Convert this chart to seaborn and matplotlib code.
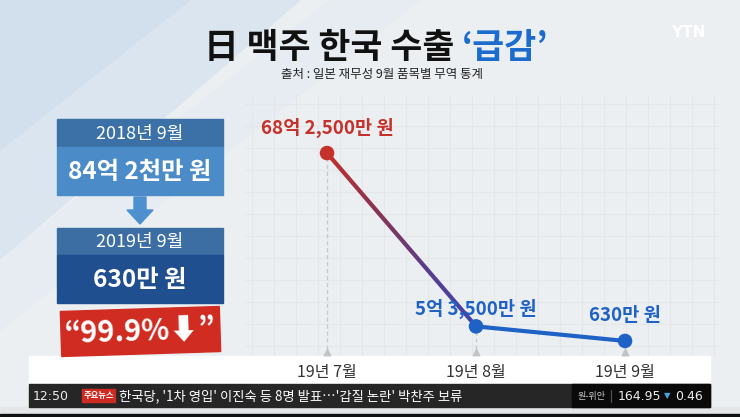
import numpy as np
import pandas as pd
import seaborn as sns
import matplotlib.pyplot as plt
from matplotlib.patches import Rectangle, Polygon
from matplotlib.colors import LinearSegmentedColormap
from matplotlib.transforms import IdentityTransform

# 데이터 (단위: 억 원)
months = ['19년 7월', '19년 8월', '19년 9월']
exports = [68.25, 5.35, 0.063]
value_labels = ['68억 2,500만 원', '5억 3,500만 원', '630만 원']
point_colors = ['#c4322b', '#1f62c6', '#1f62c6']
label_offsets = [25, 17, 25]  # 라벨 위치 (px)

compare_years = ['2018년 9월', '2019년 9월']
compare_values = ['84억 2천만 원', '630만 원']
drop_label = '“99.9%⬇”'

title_black = '日 맥주 한국 수출 '
title_blue = '‘급감’'
subtitle = '출처 : 일본 재무성 9월 품목별 무역 통계'
ticker_time = '12:50'
ticker_tag = '주요뉴스'
ticker_text = "한국당, '1차 영입' 이진숙 등 8명 발표…'갑질 논란' 박찬주 보류"
fx_name, fx_value, fx_change = '원-위안', '164.95', '0.46'

sns.set_theme(style='white')
plt.rcParams['font.family'] = ['Noto Sans CJK KR', 'DejaVu Sans']

fig = plt.figure(figsize=(7.4, 4.17), dpi=100)

# 배경 (픽셀 좌표)
bg = fig.add_axes([0, 0, 1, 1])
bg.set_xlim(0, 740)
bg.set_ylim(417, 0)
bg.axis('off')
bg.add_patch(Rectangle((0, 0), 740, 417, color='#eceff1', zorder=0))
bg.add_patch(Polygon([(0, 0), (300, 0), (0, 260)], color='#dbe5ef', zorder=0.1))
bg.add_patch(Polygon([(0, 0), (190, 0), (0, 150)], color='#d2dfec', zorder=0.2))
bg.add_patch(Polygon([(0, 260), (330, 0), (420, 0), (0, 330)], color='#e6ecf2', zorder=0.15))

# 그래프 영역 격자 (아주 옅게)
for gx in np.arange(252, 718, 22):
    bg.plot([gx, gx], [95, 356], color='#e4e6e8', lw=0.8, zorder=0.5)
for gy in np.arange(104, 356, 22):
    bg.plot([245, 718], [gy, gy], color='#e4e6e8', lw=0.8, zorder=0.5)

bg.add_patch(Rectangle((29, 356), 681, 28, color='white', zorder=1))

# 제목
bg.text(462, 47, title_black, ha='right', va='center', fontsize=25,
        fontweight='bold', color='#111111')
bg.text(462, 47, title_blue, ha='left', va='center', fontsize=25,
        fontweight='bold', color='#1b6ccc')
bg.text(382, 74, subtitle, ha='center', va='center', fontsize=9,
        color='#222222')
bg.text(688, 32, 'YTN', ha='center', va='center', fontsize=11,
        fontweight='bold', color='white', family='DejaVu Sans')

# 왼쪽 비교 박스
bg.add_patch(Rectangle((57, 119), 166, 28, color='#3b71a6', zorder=2))
bg.add_patch(Rectangle((57, 147), 166, 48, color='#4b8bc8', zorder=2))
bg.add_patch(Polygon([(134, 197), (146, 197), (146, 210), (153, 210), (140, 224),
                      (127, 210), (134, 210)], color='#4d90cf', zorder=2))
bg.add_patch(Rectangle((57, 228), 166, 27, color='#3c6da3', zorder=2))
bg.add_patch(Rectangle((57, 255), 166, 48, color='#1f4f8f', zorder=2))
bg.text(140, 134, compare_years[0], ha='center', va='center', fontsize=13,
        color='white', zorder=3)
bg.text(140, 172, compare_values[0], ha='center', va='center', fontsize=17.5,
        fontweight='bold', color='white', zorder=3)
bg.text(140, 242, compare_years[1], ha='center', va='center', fontsize=13,
        color='white', zorder=3)
bg.text(140, 280, compare_values[1], ha='center', va='center', fontsize=17.5,
        fontweight='bold', color='white', zorder=3)
bg.add_patch(Rectangle((61, 309), 159, 45, angle=-1.8, rotation_point='center',
                       color='#d02c22', zorder=2))
bg.text(140, 331, drop_label, ha='center', va='center', fontsize=21,
        fontweight='bold', color='white', rotation=1.8, zorder=3)

# 하단 뉴스 자막
bg.add_patch(Rectangle((0, 407), 740, 10, color='#e4e6e8', zorder=1))
bg.add_patch(Rectangle((0, 414), 740, 3, color='#111111', zorder=1))
bg.add_patch(Rectangle((29, 384), 681, 23, color='#262626', zorder=2))
bg.add_patch(Rectangle((572, 384), 138, 23, color='#0a0a0a', zorder=2))
bg.text(51, 396, ticker_time, ha='center', va='center', fontsize=9,
        color='#eeeeee', family='DejaVu Sans', zorder=3)
bg.add_patch(Rectangle((82, 389), 33, 13, color='#cf2a22', zorder=3))
bg.text(98.5, 395.5, ticker_tag, ha='center', va='center', fontsize=6,
        color='white', fontweight='bold', zorder=4)
bg.text(119, 396, ticker_text, ha='left', va='center', fontsize=9.6,
        color='white', zorder=3)
bg.text(592, 396, fx_name, ha='center', va='center', fontsize=6.5,
        color='#cccccc', zorder=3)
bg.plot([611, 611], [390, 402], color='#555555', lw=0.8, zorder=3)
bg.text(639, 396, fx_value, ha='center', va='center', fontsize=9,
        color='#eeeeee', family='DejaVu Sans', zorder=3)
bg.text(667, 396, '▼', ha='center', va='center', fontsize=6,
        color='#4aa3e6', family='DejaVu Sans', zorder=3)
bg.text(689, 396, fx_change, ha='center', va='center', fontsize=9,
        color='#eeeeee', family='DejaVu Sans', zorder=3)

# 선 그래프
df = pd.DataFrame({'pos': np.arange(len(months)), 'month': months, 'value': exports})
YMIN, YMAX = -5.4, 87.5
XMIN, XMAX = -0.517, 2.503

ax = fig.add_axes([250 / 740, 61 / 417, 450 / 740, 256 / 417])
ax.patch.set_alpha(0)
ax.set_xlim(XMIN, XMAX)
ax.set_ylim(YMIN, YMAX)
for s in ax.spines.values():
    s.set_visible(False)

ax.vlines(df['pos'], YMIN, df['value'], colors='#c9c9c9', linestyles=(0, (3, 2)),
          lw=1, zorder=1)
ax.scatter(df['pos'], np.full(len(df), YMIN + 1.4), marker='^', s=22,
           color='#c4c4c4', zorder=1)

sns.lineplot(data=df.iloc[1:], x='pos', y='value', color='#1f62c6', lw=3,
             ax=ax, zorder=3)

# 7월 -> 8월 구간 그라데이션
p = ax.transData.transform(df[['pos', 'value']].values[:2])
d = (p[1] - p[0]) / np.hypot(*(p[1] - p[0]))
n = np.array([-d[1], d[0]]) * 2.1
clip = Polygon([p[0] + n, p[1] + n, p[1] - n, p[0] - n], closed=True,
               transform=IdentityTransform())
grad = LinearSegmentedColormap.from_list('grad', ['#c8312a', '#8a3350', '#5a3d8c', '#3c48b0'])
im = ax.imshow(np.linspace(0, 1, 256).reshape(-1, 1), cmap=grad, aspect='auto',
               extent=[df['pos'][0] - 0.1, df['pos'][1] + 0.1, df['value'][1] - 2,
                       df['value'][0] + 2], origin='upper', zorder=3)
im.set_clip_path(clip)
ax.set_xlim(XMIN, XMAX)
ax.set_ylim(YMIN, YMAX)

sns.scatterplot(data=df, x='pos', y='value', hue='month', palette=point_colors,
                s=110, edgecolor='none', legend=False, ax=ax, zorder=4)

for i, row in df.iterrows():
    ax.annotate(value_labels[i], (row['pos'], row['value']),
                xytext=(0, label_offsets[i]), textcoords='offset pixels',
                ha='center', va='center', fontsize=13.5, fontweight='bold',
                color=point_colors[i], zorder=5)

ax.set_xticks(df['pos'], months)
ax.set_yticks([])
ax.set_xlabel('')
ax.set_ylabel('')
ax.tick_params(axis='x', length=0, pad=6, labelsize=11.5, labelcolor='#333333')

fig.savefig('out.png', dpi=100)
